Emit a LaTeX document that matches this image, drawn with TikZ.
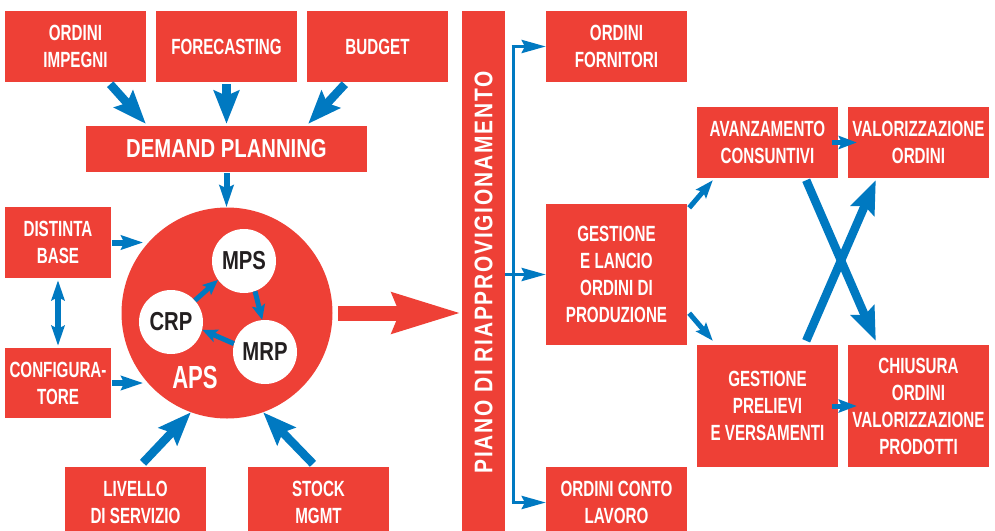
\documentclass[tikz,border=0pt]{standalone}
\usepackage{fontspec}
\setmainfont{Liberation Sans}
\newfontfamily\cond{Liberation Sans}[FakeStretch=0.69]
\newfontfamily\condb{Liberation Sans}[FakeStretch=0.78]
\newfontfamily\spaced{Liberation Sans}[FakeStretch=0.82,LetterSpace=7]
\usetikzlibrary{arrows.meta}
\definecolor{rd}{RGB}{238,64,54}
\definecolor{bl}{RGB}{0,121,193}
\definecolor{dk}{RGB}{35,31,32}
\begin{document}
\begin{tikzpicture}[x=1pt,y=-1pt,
  box/.style={fill=rd, text=white, align=center, inner sep=0pt,
    font=\cond\bfseries\fontsize{22}{27}\selectfont},
  w1/.style={minimum width=141pt},
  w3/.style={minimum width=106pt},
  bigc/.style={circle, fill=rd, inner sep=0pt, minimum size=211pt},
  smc/.style={circle, fill=white, inner sep=0pt, minimum size=64pt, text=dk,
    font=\condb\bfseries\fontsize{26}{30}\selectfont},
  bigarr/.style={draw=bl, line width=8.5pt, -{Stealth[length=33pt,width=25pt,inset=5pt]}},
  midarr/.style={draw=bl, line width=6pt, -{Stealth[length=22pt,width=14pt,inset=3pt]}},
  dblarr/.style={draw=bl, line width=6pt, {Stealth[length=20pt,width=13pt,inset=3pt]}-{Stealth[length=20pt,width=13pt,inset=3pt]}},
  inarr/.style={draw=bl, line width=5pt, -{Stealth[length=15pt,width=13pt,inset=3pt]}},
  smarr/.style={draw=bl, line width=5pt, -{Stealth[length=18pt,width=13pt,inset=3pt]}},
  thinarr/.style={draw=bl, line width=3.5pt, -{Stealth[length=24pt,width=13pt,inset=3pt]}},
  redarr/.style={draw=rd, line width=15pt, -{Stealth[length=68pt,width=38pt,inset=6pt]}}
]
\clip (0,0) rectangle (995,530);
\fill[white] (0,0) rectangle (995,530);

% left top boxes
\node[box,w1,minimum height=71pt] (oi) at (75.5,46.5) {ORDINI\\IMPEGNI};
\node[box,w1,minimum height=71pt] (fc) at (226.5,46.5) {FORECASTING};
\node[box,w1,minimum height=71pt] (bu) at (377.5,46.5) {BUDGET};
\node[box,minimum width=281pt,minimum height=46pt,
  font=\condb\bfseries\fontsize{26}{30}\selectfont] (dp) at (226.5,149) {DEMAND PLANNING};
\node[box,w3,minimum height=71pt] (db) at (58,242.5) {DISTINTA\\BASE};
\node[box,w3,minimum height=70pt] (cf) at (58,383) {CONFIGURA-\\TORE};
\node[box,w1,minimum height=71pt] (lv) at (135.5,502.5) {LIVELLO\\DI SERVIZIO};
\node[box,w1,minimum height=71pt] (st) at (318.5,502.5) {STOCK\\MGMT};

% APS circle
\node[bigc] (aps) at (227,313) {};
\node[smc] (mps) at (244,261) {MPS};
\node[smc] (crp) at (171,322) {CRP};
\node[smc] (mrp) at (265,352) {MRP};
\node[text=white, font=\cond\bfseries\fontsize{32}{34}\selectfont] (apsl) at (195,377) {APS};

% bar
\node[box,minimum width=43pt,minimum height=529pt] (bar) at (483.5,275.5) {};
\node[rotate=90, text=white, inner sep=0pt,
  font=\spaced\bfseries\fontsize{25.5}{28}\selectfont] (piano) at ([yshift=3pt]bar.center) {PIANO DI RIAPPROVIGIONAMENTO};

% right boxes
\node[box,w1,minimum height=71pt] (of) at (616.5,46.5) {ORDINI\\FORNITORI};
\node[box,w1,minimum height=141pt] (gl) at (616.5,274.5) {GESTIONE\\E LANCIO\\ORDINI DI\\PRODUZIONE};
\node[box,w1,minimum height=71pt] (ocl) at (616.5,502.5) {ORDINI CONTO\\LAVORO};
\node[box,w1,minimum height=71pt] (av) at (767.5,142.5) {AVANZAMENTO\\CONSUNTIVI};
\node[box,w1,minimum height=71pt] (vo) at (918.5,142.5) {VALORIZZAZIONE\\ORDINI};
\node[box,w1,minimum height=122pt] (gp) at (767.5,406) {GESTIONE\\PRELIEVI\\E VERSAMENTI};
\node[box,w1,minimum height=122pt] (ch) at (918.5,406) {CHIUSURA\\ORDINI\\VALORIZZAZIONE\\PRODOTTI};

% arrows into demand planning
\draw[bigarr] ([xshift=-36pt,yshift=-2pt]oi.south east) -- ([xshift=60pt,yshift=2pt]dp.north west);
\draw[bigarr] ([yshift=-2pt]fc.south) -- ([yshift=2pt]dp.north);
\draw[bigarr] ([xshift=38pt,yshift=-2pt]bu.south west) -- ([xshift=-59pt,yshift=2pt]dp.north east);
\draw[midarr] ([yshift=-1pt]dp.south) -- (dp.south |- aps.north);

% arrows into APS
\draw[midarr] ([xshift=1pt]db.east) -- ([xshift=32pt]db.east);
\draw[dblarr] ([yshift=-2pt]db.south) -- ([yshift=2pt]cf.north);
\draw[midarr] ([xshift=1pt]cf.east) -- ([xshift=32pt]cf.east);
\draw[bigarr] ([xshift=7.5pt,yshift=4pt]lv.north) -- (aps.250);
\draw[bigarr] ([xshift=-5.5pt,yshift=3pt]st.north) -- (aps.290);

% inner cycle
\draw[inarr] (crp.42) -- (mps.216);
\draw[inarr] (mps.290) -- (mrp.95);
\draw[inarr] (mrp.165) -- (crp.346);

% big red arrow
\draw[redarr] ([xshift=5.5pt]aps.east) -- (bar.west |- aps.east);

% distribution bracket
\coordinate (bt) at ([xshift=8pt]bar.east |- of.west);
\coordinate (bb) at ([xshift=8pt]bar.east |- ocl.west);
\draw[bl, line width=3pt] (bt) -- (bb);
\draw[thinarr] ([xshift=-1.5pt]bt) -- (of.west);
\draw[thinarr] ([xshift=-1.5pt]bb) -- (ocl.west);
\draw[thinarr] (bar.east |- gl.west) -- (gl.west);

% production flow
\draw[smarr] ([xshift=2pt,yshift=-4pt]gl.north east) -- ([xshift=16pt,yshift=-2pt]av.south west);
\draw[smarr] ([xshift=2pt,yshift=32pt]gl.south east) -- ([xshift=16pt,yshift=4pt]gp.north west);
\draw[smarr] ([xshift=-6pt]av.east) -- ([xshift=9pt]vo.west);
\draw[smarr] ([xshift=-6pt]gp.east) -- ([xshift=9pt]ch.west);
\draw[bigarr] ([xshift=-32pt,yshift=-2pt]av.south east) -- ([xshift=28pt,yshift=4pt]ch.north west);
\draw[bigarr] ([xshift=-32pt,yshift=4pt]gp.north east) -- ([xshift=28pt,yshift=-2pt]vo.south west);
\end{tikzpicture}
\end{document}
